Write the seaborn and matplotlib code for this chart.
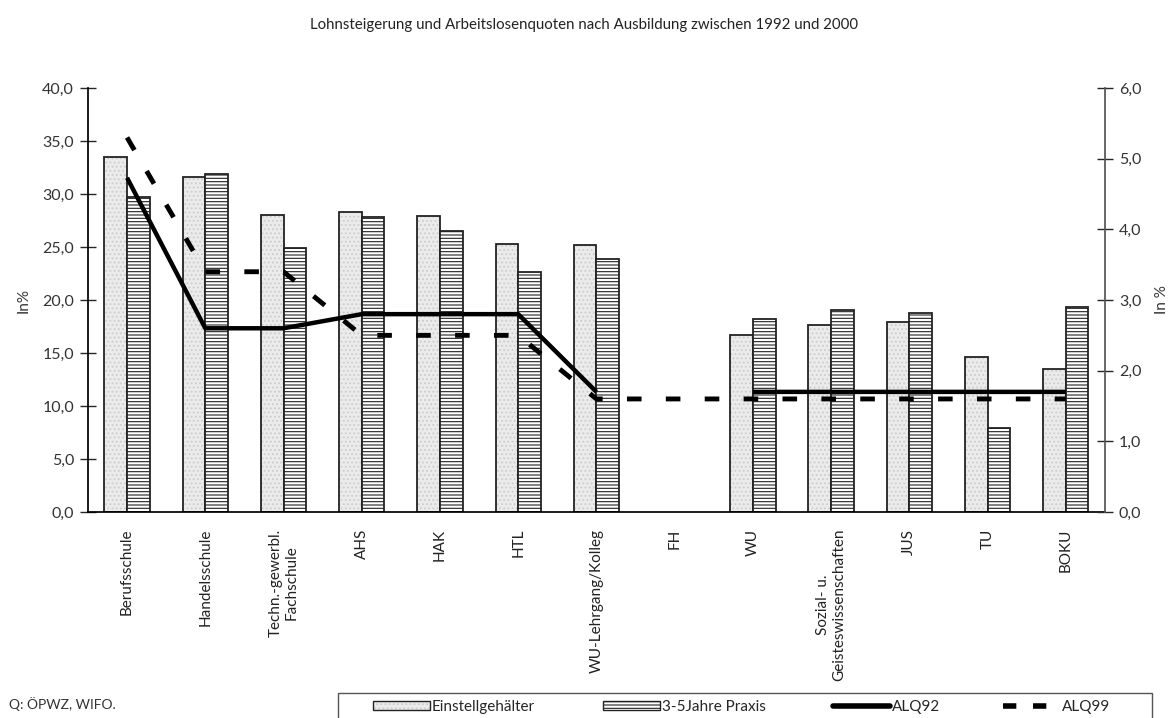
import numpy as np
import pandas as pd
import seaborn as sns
import matplotlib.pyplot as plt
from matplotlib.ticker import FuncFormatter, FixedLocator
from matplotlib.lines import Line2D
from matplotlib.patches import Patch, Rectangle

# Kategorien und Werte
categories = ["Berufsschule", "Handelsschule", "Techn.-gewerbl.\nFachschule", "AHS", "HAK",
              "HTL", "WU-Lehrgang/Kolleg", "FH", "WU", "Sozial- u.\nGeisteswissenschaften",
              "JUS", "TU", "BOKU"]
einstell = [33.5, 31.6, 28.0, 28.3, 27.9, 25.3, 25.2, np.nan, 16.7, 17.6, 17.9, 14.6, 13.5]
praxis = [29.7, 31.9, 24.9, 27.8, 26.5, 22.6, 23.9, np.nan, 18.2, 19.1, 18.8, 7.9, 19.3]
alq92 = [4.73, 2.6, 2.6, 2.8, 2.8, 2.8, 1.7, np.nan, 1.7, 1.7, 1.7, 1.7, 1.7]
alq99 = [5.3, 3.4, 3.4, 2.5, 2.5, 2.5, 1.6, 1.6, 1.6, 1.6, 1.6, 1.6, 1.6]

series_names = ["Einstellgehälter", "3-5Jahre Praxis"]
stipple = (0.80, 0.80, 0.80, 1)

sns.set_theme(style="white")
plt.rcParams['font.family'] = ['Lato', 'DejaVu Sans']
plt.rcParams['hatch.linewidth'] = 0.8

df = pd.DataFrame({
    "Ausbildung": categories * 2,
    "Serie": [series_names[0]] * len(categories) + [series_names[1]] * len(categories),
    "Wert": einstell + praxis,
})

fig = plt.figure(figsize=(11.68, 7.18), dpi=100)
ax = fig.add_axes([0.0753, 0.2869, 0.8707, 0.5905])

sns.barplot(data=df, x="Ausbildung", y="Wert", hue="Serie", order=categories,
            hue_order=series_names, width=0.58, ax=ax, legend=False,
            palette=["#ebebeb", "white"], edgecolor="#222222", linewidth=1.3,
            saturation=1, errorbar=None)

n = len(categories)
# Schraffur je Serie
for cont, hatch in zip(ax.containers, ["....", "-----"]):
    for p in cont.patches:
        p.set_hatch(hatch)
        if hatch == "....":
            p._hatch_color = stipple

ax.set_xlim(-0.5, n - 0.5)
ax.set_ylim(0, 40)
ax.set_yticks(np.arange(0, 41, 5))
ax.yaxis.set_major_formatter(FuncFormatter(lambda v, _: f"{v:.1f}".replace(".", ",")))
ax.set_ylabel("In%", fontsize=11, color="#333333", labelpad=8)
ax.set_xlabel("")

# x-Ticks zwischen den Kategorien, Beschriftung in der Mitte
ax.xaxis.set_major_locator(FixedLocator(np.arange(-0.5, n, 1.0)))
ax.xaxis.set_minor_locator(FixedLocator(np.arange(n)))
ax.set_xticklabels([""] * (n + 1))
ax.set_xticklabels(categories, minor=True, rotation=90, fontsize=11,
                   color="#222222", va="top", ha="center", multialignment="center")
ax.tick_params(axis="x", which="major", direction="out", length=8, width=1, color="black")
ax.tick_params(axis="x", which="minor", length=0, pad=12)
ax.tick_params(axis="y", direction="inout", length=12, width=1, labelsize=11.5,
               labelcolor="#333333", left=True, pad=4)

for s in ["top", "right"]:
    ax.spines[s].set_visible(False)
ax.spines["left"].set_color("black")
ax.spines["bottom"].set_color("black")

ax2 = ax.twinx()
x = np.arange(n)
ax2.plot(x, alq92, color="black", lw=3.2, solid_capstyle="butt")
ax2.plot(x, alq99, color="black", lw=3.5, dashes=(3, 5))
ax2.set_ylim(0, 6)
ax2.set_yticks(np.arange(0, 7, 1))
ax2.yaxis.set_major_formatter(FuncFormatter(lambda v, _: f"{v:.1f}".replace(".", ",")))
ax2.set_ylabel("In %", fontsize=11, color="#333333", labelpad=10)
ax2.tick_params(axis="y", direction="inout", length=12, width=1, labelsize=11.5,
                labelcolor="#333333", right=True, pad=4)
for s in ["top", "left", "bottom"]:
    ax2.spines[s].set_visible(False)
ax2.spines["right"].set_color("#555555")

fig.suptitle("Lohnsteigerung und Arbeitslosenquoten nach Ausbildung zwischen 1992 und 2000",
             y=0.975, fontsize=10.8, color="#222222")
fig.text(0.008, 0.012, "Q: ÖPWZ, WIFO.", fontsize=10, color="#333333")

# Legendenrahmen unten rechts
W, H = 1168, 718
fig.add_artist(Rectangle((338 / W, -0.02), (1152 - 338) / W, 0.02 + 1 - 693 / H,
                         transform=fig.transFigure, facecolor="white",
                         edgecolor="#555555", linewidth=1.0, zorder=5))

handles = [
    Patch(facecolor="#ebebeb", edgecolor="#222222", hatch="....", label=series_names[0]),
    Patch(facecolor="white", edgecolor="#222222", hatch="-----", label=series_names[1]),
    Line2D([], [], color="black", lw=4, label="ALQ92"),
    Line2D([], [], color="black", lw=4, dashes=(2.4, 3), label="ALQ99"),
]
# vier gleich verteilte Einträge
for h, xpx in zip(handles, [373, 603, 833, 1003]):
    leg = fig.legend(handles=[h], loc="center left", bbox_to_anchor=(xpx / W, 1 - 707 / H),
                     fontsize=11, frameon=False, handlelength=3.7, handleheight=0.6,
                     handletextpad=0.15, borderpad=0, borderaxespad=0)
    leg.set_zorder(6)
    for p in leg.get_patches():
        if p.get_hatch() == "....":
            p._hatch_color = stipple

fig.savefig("out.png", dpi=100)
